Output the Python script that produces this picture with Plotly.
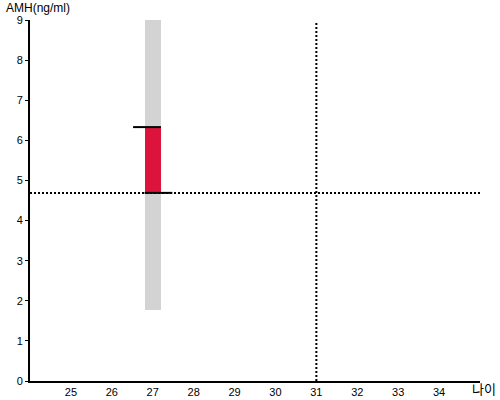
import plotly.graph_objects as go

# data
age = [27]
range_low = [1.77]
range_high = [9.0]
amh_low = [4.69]
amh_high = [6.33]
ref_age = 31
ref_amh = 4.69

x_range = [24, 35]
y_range = [0, 9]
x_ticks = list(range(25, 35))
y_ticks = list(range(0, 10))

bar_w = 0.4
cap_w = 0.68

fig = go.Figure()

# light grey normal-range bar
fig.add_trace(go.Bar(
    x=age, base=range_low, y=[h - l for h, l in zip(range_high, range_low)],
    width=bar_w, marker=dict(color='#d3d3d3', line=dict(width=0)),
    hoverinfo='skip'))

# red measured interval
fig.add_trace(go.Bar(
    x=age, base=amh_low, y=[h - l for h, l in zip(amh_high, amh_low)],
    width=bar_w, marker=dict(color='#dc143c', line=dict(width=0)),
    hoverinfo='skip'))

# caps: top one hangs left, bottom one sticks out right
a = age[0]
fig.add_trace(go.Scatter(
    x=[a + bar_w / 2 - cap_w, a + bar_w / 2], y=[amh_high[0], amh_high[0]],
    mode='lines', line=dict(color='black', width=2), hoverinfo='skip'))
fig.add_trace(go.Scatter(
    x=[a - bar_w / 2, a - bar_w / 2 + cap_w], y=[amh_low[0], amh_low[0]],
    mode='lines', line=dict(color='black', width=2), hoverinfo='skip'))

# dotted reference lines
fig.add_shape(type='line', xref='x', yref='y', x0=x_range[0], x1=x_range[1],
              y0=ref_amh, y1=ref_amh, line=dict(color='black', width=2, dash='2px,2px'))
fig.add_shape(type='line', xref='x', yref='y', x0=ref_age, x1=ref_age,
              y0=y_range[0], y1=y_range[1] - 0.05, line=dict(color='black', width=2, dash='2px,2px'))

fig.update_layout(
    width=500, height=400,
    margin=dict(l=30, r=20, t=20, b=19, autoexpand=False),
    paper_bgcolor='white', plot_bgcolor='white',
    showlegend=False, barmode='overlay', bargap=0,
    font=dict(family='Liberation Sans, Arial, sans-serif', size=11, color='black'),
    xaxis=dict(range=x_range, tickvals=x_ticks, showgrid=False, zeroline=False,
               showline=True, linecolor='black', linewidth=2, ticks='',
               fixedrange=True, automargin=False),
    yaxis=dict(range=y_range, tickvals=y_ticks, showgrid=False, zeroline=False,
               showline=True, linecolor='black', linewidth=2, ticks='outside',
               ticklen=3, tickcolor='black', fixedrange=True, automargin=False),
    annotations=[
        dict(text='AMH(ng/ml)', xref='paper', yref='paper', x=-25 / 450, y=1,
             xanchor='left', yanchor='bottom', showarrow=False, borderpad=0,
             font=dict(size=12), yshift=4),
        dict(text='나이', xref='paper', yref='paper', x=1.038, y=0,
             xanchor='right', yanchor='bottom', showarrow=False, borderpad=0,
             font=dict(size=13, family='Noto Sans CJK KR'), yshift=-18),
    ],
)

# drop the page's default body margin / scrollbars so the 500x400 figure fills the window
fig.write_html("out.html", config={'displayModeBar': False},
               post_script="document.body.style.margin='0';document.body.style.overflow='hidden';")
